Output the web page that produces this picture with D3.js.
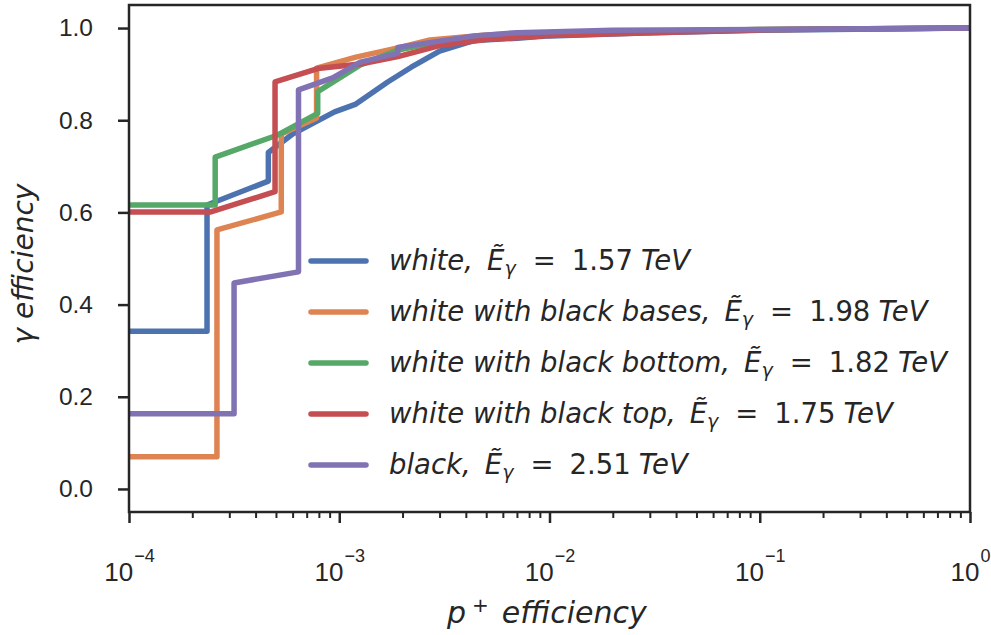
<!DOCTYPE html>
<html>
<head>
<meta charset="utf-8">
<script src="https://cdn.jsdelivr.net/npm/d3@7"></script>
<style>
body { margin: 0; background: #fff; }
svg text { fill: #262626; }
</style>
</head>
<body>
<script>
// curves: [p+ efficiency, gamma efficiency]
var names = ["white", "white with black bases", "white with black bottom", "white with black top", "black"];
var energies = ["1.57", "1.98", "1.82", "1.75", "2.51"];
var colors = ["#4c72b0", "#dd8452", "#55a868", "#c44e52", "#8172b3"];

var white = [[1e-4, 0.342], [2.35e-4, 0.342], [2.35e-4, 0.616], [4.6e-4, 0.668], [4.6e-4, 0.73],
	[6e-4, 0.77], [9.5e-4, 0.818], [1.2e-3, 0.835], [1.7e-3, 0.883], [2.2e-3, 0.915], [3.0e-3, 0.95],
	[4.4e-3, 0.973], [7e-3, 0.978], [1e-2, 0.983], [3e-2, 0.99], [0.1, 0.995], [1, 1.0]];
var whiteBases = [[1e-4, 0.07], [2.62e-4, 0.07], [2.62e-4, 0.562], [5.3e-4, 0.601], [5.3e-4, 0.77],
	[7.8e-4, 0.805], [7.8e-4, 0.913], [1.2e-3, 0.937], [1.9e-3, 0.957], [2.7e-3, 0.974],
	[5e-3, 0.985], [1e-2, 0.99], [0.1, 0.997], [1, 1.0]];
var whiteBottom = [[1e-4, 0.616], [2.57e-4, 0.616], [2.57e-4, 0.72], [5.1e-4, 0.768], [7.9e-4, 0.815],
	[7.9e-4, 0.862], [1.26e-3, 0.92], [1.9e-3, 0.952], [3e-3, 0.97], [5e-3, 0.982],
	[1e-2, 0.988], [0.1, 0.997], [1, 1.0]];
var whiteTop = [[1e-4, 0.601], [2.45e-4, 0.601], [4.95e-4, 0.645], [4.95e-4, 0.883], [7.9e-4, 0.912],
	[1.26e-3, 0.922], [1.9e-3, 0.938], [3e-3, 0.962], [5e-3, 0.975], [1e-2, 0.984],
	[0.1, 0.996], [1, 1.0]];
var black = [[1e-4, 0.163], [3.16e-4, 0.163], [3.16e-4, 0.447], [6.4e-4, 0.471], [6.4e-4, 0.866],
	[9.3e-4, 0.892], [1.26e-3, 0.926], [1.9e-3, 0.945], [1.9e-3, 0.958], [4.4e-3, 0.983],
	[7e-3, 0.99], [2e-2, 0.995], [0.1, 0.997], [1, 1.0]];
var series = [white, whiteBases, whiteBottom, whiteTop, black];

var yTicks = [0, 0.2, 0.4, 0.6, 0.8, 1.0];
var xTicks = [1e-4, 1e-3, 1e-2, 1e-1, 1];
var xTickExps = ["\u22124", "\u22123", "\u22122", "\u22121", "0"];

var margin = {top: 5, right: 21, bottom: 123, left: 129},
	width = 991 - margin.left - margin.right,
	height = 635 - margin.top - margin.bottom;

var ink = "#262626";
var tickFont = "'Liberation Sans', Arial, sans-serif";
var mathFont = "'DejaVu Sans', sans-serif";

var x = d3.scaleLog()
	.domain([1e-4, 1])
	.range([0, width]);

var y = d3.scaleLinear()
	.domain([-0.05, 1.05])
	.range([height, 0]);

var svg = d3.select("body").append("svg")
	.attr("width", width + margin.left + margin.right)
	.attr("height", height + margin.top + margin.bottom);

var main = svg.append("g")
	.attr("transform", "translate(" + margin.left + "," + margin.top + ")");

main.append("clipPath").attr("id", "plot")
	.append("rect").attr("width", width).attr("height", height);

// curves
var line = d3.line()
	.x(function(d) { return x(d[0]); })
	.y(function(d) { return y(d[1]); });

main.append("g")
	.attr("clip-path", "url(#plot)")
	.selectAll("path")
	.data(series)
	.enter().append("path")
		.attr("d", line)
		.attr("fill", "none")
		.attr("stroke", function(d, i) { return colors[i]; })
		.attr("stroke-width", 5.5)
		.attr("stroke-linejoin", "round")
		.attr("stroke-linecap", "round");

// y axis
var yAxis = d3.axisLeft(y)
	.tickValues(yTicks)
	.tickSize(11)
	.tickPadding(25)
	.tickFormat(d3.format(".1f"));

var gy = main.append("g").call(yAxis);
gy.select(".domain").remove();
gy.selectAll("line").attr("stroke", ink).attr("stroke-width", 2.5);
gy.selectAll("text")
	.attr("font-family", tickFont)
	.attr("font-size", 24.5)
	.attr("fill", ink);

// x axis, minor then major ticks
var minor = x.ticks().filter(function(d) { return xTicks.indexOf(d) < 0; });

var gxMinor = main.append("g")
	.attr("transform", "translate(0," + height + ")")
	.call(d3.axisBottom(x).tickValues(minor).tickSize(6).tickFormat(""));
gxMinor.select(".domain").remove();
gxMinor.selectAll("line").attr("stroke", ink).attr("stroke-width", 2);

var gx = main.append("g")
	.attr("transform", "translate(0," + height + ")")
	.call(d3.axisBottom(x).tickValues(xTicks).tickSize(11).tickFormat(""));
gx.select(".domain").remove();
gx.selectAll("line").attr("stroke", ink).attr("stroke-width", 2.5);
gx.selectAll(".tick text").remove();

var lab = gx.selectAll(".tick").append("text")
	.attr("y", 69)
	.attr("text-anchor", "middle")
	.attr("font-family", tickFont)
	.attr("fill", ink);
lab.append("tspan").attr("font-size", 26).text("10");
lab.append("tspan")
	.attr("font-size", 18)
	.attr("dy", -19)
	.attr("dx", 1)
	.text(function(d, i) { return xTickExps[i]; });

// frame
main.append("rect")
	.attr("width", width)
	.attr("height", height)
	.attr("fill", "none")
	.attr("stroke", ink)
	.attr("stroke-width", 2.5);

// axis titles
var xt = svg.append("text")
	.attr("x", 447)
	.attr("y", 623)
	.attr("font-family", mathFont)
	.attr("font-style", "italic")
	.attr("font-size", 30);
xt.append("tspan").text("p");
xt.append("tspan").attr("font-size", 20).attr("font-style", "normal").attr("dx", 6).attr("dy", -11).text("+");
xt.append("tspan").attr("dx", 13).attr("dy", 11).text("efficiency");

svg.append("text")
	.attr("transform", "translate(33," + 264 + ")rotate(-90)")
	.attr("text-anchor", "middle")
	.attr("font-family", mathFont)
	.attr("font-style", "italic")
	.attr("font-size", 28)
	.text("\u03b3 efficiency");

// legend
var legend = svg.append("g")
	.attr("transform", "translate(308,261)");

var item = legend.selectAll("g")
	.data(names)
	.enter().append("g")
		.attr("transform", function(d, i) { return "translate(0," + (i * 51) + ")"; });

item.append("line")
	.attr("x1", 3).attr("x2", 58)
	.attr("stroke", function(d, i) { return colors[i]; })
	.attr("stroke-width", 5.5)
	.attr("stroke-linecap", "round");

var lt = item.append("text")
	.attr("x", 81)
	.attr("y", 9)
	.attr("font-family", mathFont)
	.attr("font-style", "italic")
	.attr("font-size", 27.5);
lt.append("tspan").text(function(d) { return d + ","; });
lt.append("tspan").attr("dx", 14).text("\u1ebc");
lt.append("tspan").attr("font-size", 19).attr("dy", 5).text("\u03b3");
lt.append("tspan").attr("font-style", "normal").attr("dx", 17).attr("dy", -5).text("=");
lt.append("tspan").attr("font-style", "normal").attr("dx", 16).text(function(d, i) { return energies[i]; });
lt.append("tspan").attr("dx", 8).text("TeV");
</script>
</body>
</html>
